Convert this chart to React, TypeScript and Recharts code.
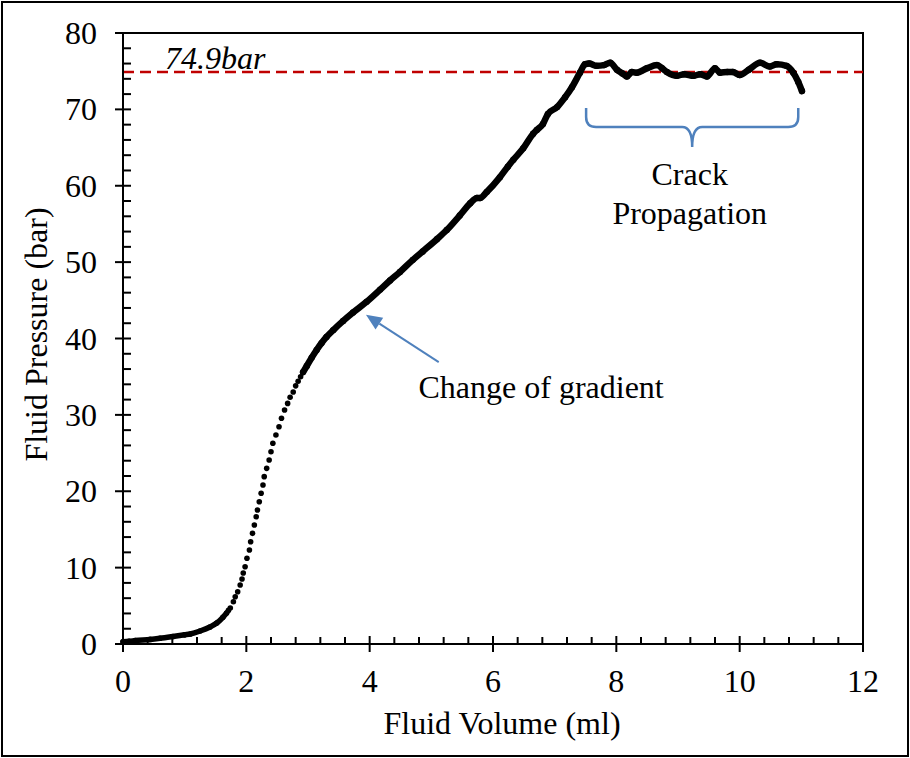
import { ScatterChart, Scatter, XAxis, YAxis, ReferenceLine, ReferenceArea, ReferenceDot } from 'recharts';

// dense start of the curve (0 - 1.6 ml)
const lowVolume = [0, 0.1, 0.2, 0.44, 0.6, 0.81, 1.0, 1.09, 1.25, 1.41, 1.52, 1.62, 1.68];
const lowPressure = [0.3, 0.35, 0.45, 0.6, 0.75, 0.98, 1.2, 1.31, 1.7, 2.23, 2.75, 3.5, 4.06];

// steep part where the single samples are visible as dots
const rampVolume = [
  1.71, 1.74, 1.79, 1.82, 1.86, 1.9, 1.93, 1.95, 1.98, 2.01, 2.05, 2.07, 2.1, 2.13, 2.16, 2.18,
  2.21, 2.24, 2.27, 2.29, 2.33, 2.37, 2.4, 2.43, 2.48, 2.53, 2.57, 2.62, 2.67, 2.71, 2.76, 2.8, 2.84, 2.88,
];
const rampPressure = [
  4.4, 4.71, 5.54, 6.19, 6.85, 7.73, 8.51, 9.3, 10.12, 11.22, 12.31, 13.39, 14.49, 15.58, 16.67, 17.55,
  18.63, 19.73, 20.82, 21.91, 23.0, 24.09, 25.18, 26.28, 27.37, 28.45, 29.55, 30.64, 31.5, 32.3, 33.0, 33.8, 34.4, 35.0,
];

// dense part after the change of gradient, incl. the crack propagation plateau
const upperVolume = [
  2.92, 2.98, 3.06, 3.14, 3.22, 3.3, 3.41, 3.57, 3.73, 3.95, 4.17, 4.33, 4.49, 4.7, 4.86, 5.09, 5.25, 5.46, 5.63,
  5.74, 5.79, 5.9, 6.11, 6.24, 6.33, 6.49, 6.65, 6.71, 6.81, 6.89, 7.04, 7.17, 7.28, 7.41, 7.49,
  7.56, 7.68, 7.8, 7.9, 8.01, 8.1, 8.17, 8.25, 8.33, 8.5, 8.66, 8.74, 8.82, 8.98, 9.1, 9.25, 9.36,
  9.47, 9.6, 9.68, 9.8, 9.89, 10.0, 10.15, 10.33, 10.49, 10.6, 10.76, 10.87, 10.95, 11.01,
];
const upperPressure = [
  35.6, 36.4, 37.5, 38.5, 39.4, 40.2, 41.1, 42.3, 43.4, 44.8, 46.4, 47.6, 48.7, 50.3, 51.4, 53.0, 54.2, 56.1, 57.7,
  58.4, 58.4, 59.2, 61.1, 62.5, 63.4, 64.9, 66.8, 67.3, 68.1, 69.4, 70.3, 71.6, 72.9, 74.8, 75.9,
  76.0, 75.7, 75.8, 76.1, 75.2, 74.7, 74.3, 74.9, 74.8, 75.4, 75.8, 75.4, 74.9, 74.4, 74.6, 74.4, 74.6,
  74.3, 75.4, 74.8, 74.9, 74.9, 74.5, 75.2, 76.1, 75.6, 75.9, 75.7, 74.8, 73.6, 72.4,
];

const xMajorTicks = [0, 2, 4, 6, 8, 10, 12];
const yMajorTicks = [0, 10, 20, 30, 40, 50, 60, 70, 80];
const peakPressure = 74.9;

const toPoints = (vs: number[], ps: number[]) => vs.map((v, i) => ({ v, p: ps[i] }));
const lowData = toPoints(lowVolume, lowPressure);
const rampData = toPoints(rampVolume, rampPressure);
const upperData = toPoints(upperVolume, upperPressure);

// minor ticks: 5 per major step on x, every 2 bar on y
const xTicks = Array.from({ length: 31 }, (_, i) => +(i * 0.4).toFixed(1));
const yTicks = Array.from({ length: 41 }, (_, i) => i * 2);

const FONT = '"Liberation Serif", "Times New Roman", serif';
const SIZE = 32;
const BLUE = '#4F81BD';

const isMajor = (list: number[], v: number) => list.some((t) => Math.abs(t - v) < 1e-6);

const XTick = (props: any) => {
  const { x, y, payload } = props;
  if (!isMajor(xMajorTicks, payload.value)) {
    return <line x1={x} x2={x} y1={y - 7} y2={y} stroke="#000" strokeWidth={2} />;
  }
  return (
    <g>
      <line x1={x} x2={x} y1={y - 8} y2={y + 8} stroke="#000" strokeWidth={2} />
      <text x={x} y={y + 48} textAnchor="middle" fontFamily={FONT} fontSize={SIZE} fill="#000">
        {payload.value}
      </text>
    </g>
  );
};

const YTick = (props: any) => {
  const { x, y, payload } = props;
  if (!isMajor(yMajorTicks, payload.value)) {
    return <line x1={x} x2={x + 8} y1={y} y2={y} stroke="#000" strokeWidth={2} />;
  }
  return (
    <g>
      <line x1={x - 8} x2={x + 8} y1={y} y2={y} stroke="#000" strokeWidth={2} />
      <text x={x - 26} y={y + 11} textAnchor="end" fontFamily={FONT} fontSize={SIZE} fill="#000">
        {payload.value}
      </text>
    </g>
  );
};

const XTitle = (props: any) => {
  const vb = props.viewBox;
  return (
    <text x={vb.x + vb.width / 2 + 9} y={vb.y + 90} textAnchor="middle" fontFamily={FONT} fontSize={SIZE} fill="#000">
      Fluid Volume (ml)
    </text>
  );
};

const YTitle = (props: any) => {
  const vb = props.viewBox;
  const tx = vb.x + 47;
  const ty = vb.y + vb.height / 2 - 4;
  return (
    <text x={tx} y={ty} transform={`rotate(-90, ${tx}, ${ty})`} textAnchor="middle" fontFamily={FONT} fontSize={SIZE} fill="#000">
      Fluid Pressure (bar)
    </text>
  );
};

const dot = (r: number) => (p: any) => <circle cx={p.cx} cy={p.cy} r={r} fill="#000" />;

const note = (text: string, anchor: 'start' | 'middle', italic = false) => (p: any) => (
  <text x={p.cx} y={p.cy} textAnchor={anchor} fontFamily={FONT} fontSize={SIZE} fontStyle={italic ? 'italic' : 'normal'} fill="#000">
    {text}
  </text>
);

const Arrow = (p: any) => {
  const { x1, y1, x2, y2 } = p;
  const ang = Math.atan2(y2 - y1, x2 - x1);
  const len = 16;
  const half = 7;
  const bx = x2 - len * Math.cos(ang);
  const by = y2 - len * Math.sin(ang);
  const nx = -Math.sin(ang) * half;
  const ny = Math.cos(ang) * half;
  return (
    <g>
      <line x1={x1} y1={y1} x2={bx} y2={by} stroke={BLUE} strokeWidth={2} />
      <polygon points={`${x2},${y2} ${bx + nx},${by + ny} ${bx - nx},${by - ny}`} fill={BLUE} />
    </g>
  );
};

const Brace = (p: any) => {
  const { x1, x2, y1 } = p;
  const cx = (x1 + x2) / 2;
  const r = 10;
  const top = y1 - 19;
  const tip = y1 + 20;
  const d =
    `M${x1},${top} L${x1},${y1 - r} Q${x1},${y1} ${x1 + r},${y1} L${cx - r},${y1} Q${cx},${y1} ${cx},${tip}` +
    ` Q${cx},${y1} ${cx + r},${y1} L${x2 - r},${y1} Q${x2},${y1} ${x2},${y1 - r} L${x2},${top}`;
  return <path d={d} fill="none" stroke={BLUE} strokeWidth={2.5} />;
};

const thickLine = (w: number) => ({ stroke: '#000', strokeWidth: w, strokeLinejoin: 'round', strokeLinecap: 'round' });

export default function App() {
  return (
    <div style={{ position: 'absolute', left: 0, top: 0, width: 910, height: 758, background: '#fff' }}>
      <div
        style={{
          position: 'absolute', left: 1, top: 1, width: 908, height: 756,
          border: '2px solid #000', boxSizing: 'border-box',
        }}
      />
      <ScatterChart width={910} height={758} margin={{ top: 33, right: 47, left: 0, bottom: 0 }}>
        <XAxis
          type="number" dataKey="v" domain={[0, 12]} ticks={xTicks} interval={0}
          height={114} tickSize={0} tickMargin={0} tick={XTick}
          axisLine={{ stroke: '#000', strokeWidth: 2 }} label={{ content: XTitle }}
        />
        <YAxis
          type="number" dataKey="p" domain={[0, 80]} ticks={yTicks} interval={0}
          width={123} tickSize={0} tickMargin={0} tick={YTick}
          axisLine={{ stroke: '#000', strokeWidth: 2 }} label={{ content: YTitle }}
        />
        <ReferenceArea x1={0} x2={12} y1={0} y2={80} fill="none" stroke="#000" strokeWidth={2} />
        <ReferenceLine y={peakPressure} stroke="#C00000" strokeWidth={2.5} strokeDasharray="11 6" />
        <Scatter
          data={lowData} isAnimationActive={false} shape={dot(2.8)}
          line={thickLine(5.5)} lineJointType="monotoneX"
        />
        <Scatter data={rampData} isAnimationActive={false} shape={dot(2.8)} />
        <Scatter
          data={upperData} isAnimationActive={false} shape={dot(3.2)}
          line={thickLine(6.5)} lineJointType="monotoneX"
        />
        <ReferenceLine segment={[{ x: 5.12, y: 36.9 }, { x: 3.94, y: 43.1 }]} shape={Arrow} />
        <ReferenceLine segment={[{ x: 7.51, y: 67.7 }, { x: 10.95, y: 67.7 }]} shape={Brace} />
        <ReferenceDot x={0.68} y={75.25} r={0} shape={note('74.9bar', 'start', true)} />
        <ReferenceDot x={6.78} y={32.2} r={0} shape={note('Change of gradient', 'middle')} />
        <ReferenceDot x={9.19} y={60.1} r={0} shape={note('Crack', 'middle')} />
        <ReferenceDot x={9.19} y={55.0} r={0} shape={note('Propagation', 'middle')} />
      </ScatterChart>
    </div>
  );
}
